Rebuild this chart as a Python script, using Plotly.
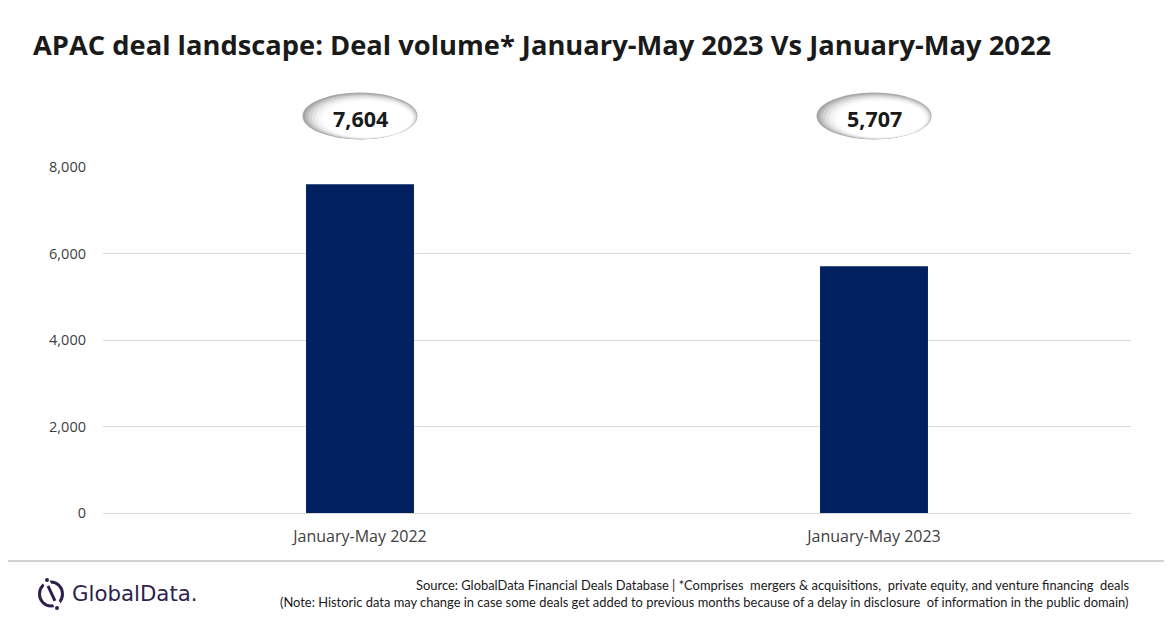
import plotly.graph_objects as go

categories = ["January-May 2022", "January-May 2023"]
deal_volume = [7604, 5707]
y_ticks = [0, 2000, 4000, 6000, 8000]
y_tick_labels = ["0", "2,000", "4,000", "6,000", "8,000"]

title_text = "APAC deal landscape: Deal volume* January-May 2023 Vs January-May 2022"
source_line1 = ("Source: GlobalData Financial Deals Database | *Comprises  mergers &amp; acquisitions,  "
                "private equity, and venture financing  deals")
source_line2 = ("(Note: Historic data may change in case some deals get added to previous months because "
                "of a delay in disclosure  of information in the public domain)")

BAR_COLOR = "#002060"
LOGO_COLOR = "#2f1f4d"

fig = go.Figure()
fig.add_trace(go.Bar(
    x=categories, y=deal_volume, marker=dict(color=BAR_COLOR, line=dict(width=0)),
    hoverinfo="x+y",
))

shapes = []
annotations = []

# bubble call-outs above each bar
bubble_w, bubble_h = 115, 47
layers = [
    (0, 0, 1.00, "#a6a6a6"),
    (2, 1, 0.97, "#bdbdbd"),
    (4, 2, 0.94, "#d2d2d2"),
    (6, 3, 0.90, "#e4e4e4"),
    (8, 4, 0.86, "#f1f1f1"),
    (10, 5, 0.82, "#fafafa"),
    (12, 6, 0.78, "#ffffff"),
]
for i, (cat, val) in enumerate(zip(categories, deal_volume)):
    for dx, dy, s, col in layers:
        w = bubble_w * s
        h = bubble_h * s
        cx = dx * 0.6
        cy = -dy * 0.5
        shapes.append(dict(
            type="circle", xref="x", yref="paper", xsizemode="pixel", ysizemode="pixel",
            xanchor=i, yanchor=1.1474,
            x0=cx - w / 2, x1=cx + w / 2, y0=cy - h / 2, y1=cy + h / 2,
            fillcolor=col, line=dict(width=0), layer="above",
        ))
    annotations.append(dict(
        x=cat, xref="x", y=1.1416, yref="paper", text=f"<b>{val:,}</b>", showarrow=False,
        font=dict(family="Open Sans", size=21.5, color="#1a1a1a"), xanchor="center", yanchor="middle",
    ))

# footer separator
shapes.append(dict(type="line", xref="paper", yref="paper", x0=-0.2, x1=1.1, y0=-0.1387, y1=-0.1387,
                   line=dict(color="#a6a6a6", width=1.2)))

# logo icon
ix, iy = -0.0506, -0.234
def icon_shape(kind, x0, y0, x1, y1, **kw):
    d = dict(type=kind, xref="paper", yref="paper", xsizemode="pixel", ysizemode="pixel",
             xanchor=ix, yanchor=iy, x0=x0, y0=y0, x1=x1, y1=y1)
    d.update(kw)
    return d

shapes.append(icon_shape("circle", -11.5, -12, 11.5, 12, line=dict(color=LOGO_COLOR, width=3),
                         fillcolor="rgba(0,0,0,0)"))
shapes.append(icon_shape("line", -7, 17, 9, -17, line=dict(color="white", width=7)))
shapes.append(icon_shape("line", -3, 8, 4, -7, line=dict(color=LOGO_COLOR, width=3)))
shapes.append(icon_shape("circle", -6, 12, -2, 16, fillcolor=LOGO_COLOR, line=dict(width=0)))
shapes.append(icon_shape("circle", 4, -16, 8, -12, fillcolor=LOGO_COLOR, line=dict(width=0)))

annotations += [
    dict(x=-0.0325, xref="paper", y=-0.234, yref="paper", text="GlobalData.", showarrow=False,
         xanchor="left", yanchor="middle", font=dict(family="DejaVu Sans", size=21.3, color=LOGO_COLOR)),
    dict(x=1.0, xref="paper", y=-0.208, yref="paper", text=source_line1, showarrow=False,
         xanchor="right", yanchor="middle", font=dict(family="Lato", size=12.9, color="#1a1a1a")),
    dict(x=1.0, xref="paper", y=-0.257, yref="paper", text=source_line2, showarrow=False,
         xanchor="right", yanchor="middle", font=dict(family="Lato", size=12.9, color="#1a1a1a")),
]

fig.update_layout(
    width=1164, height=620,
    margin=dict(l=95, r=41, t=159, b=115),
    paper_bgcolor="white", plot_bgcolor="white",
    title=dict(text=f"<b>{title_text}</b>", x=0.0215, xanchor="left", y=0.940, yanchor="middle",
               font=dict(family="Open Sans", size=27.3, color="#1a1a1a")),
    bargap=0.79,
    showlegend=False,
    shapes=shapes,
    annotations=annotations,
    xaxis=dict(showgrid=False, showline=True, linecolor="#d9d9d9", linewidth=1, ticks="",
               ticklabelstandoff=9,
               tickfont=dict(family="Open Sans", size=16, color="#404040"), fixedrange=True),
    yaxis=dict(range=[0, 8000], tickvals=y_ticks, ticktext=y_tick_labels, showgrid=True,
               gridcolor="#d9d9d9", gridwidth=1, zeroline=False, showline=False, ticks="",
               ticklabelstandoff=16,
               tickfont=dict(family="Open Sans", size=14.5, color="#404040"), fixedrange=True),
)

fig.write_html("out.html")
